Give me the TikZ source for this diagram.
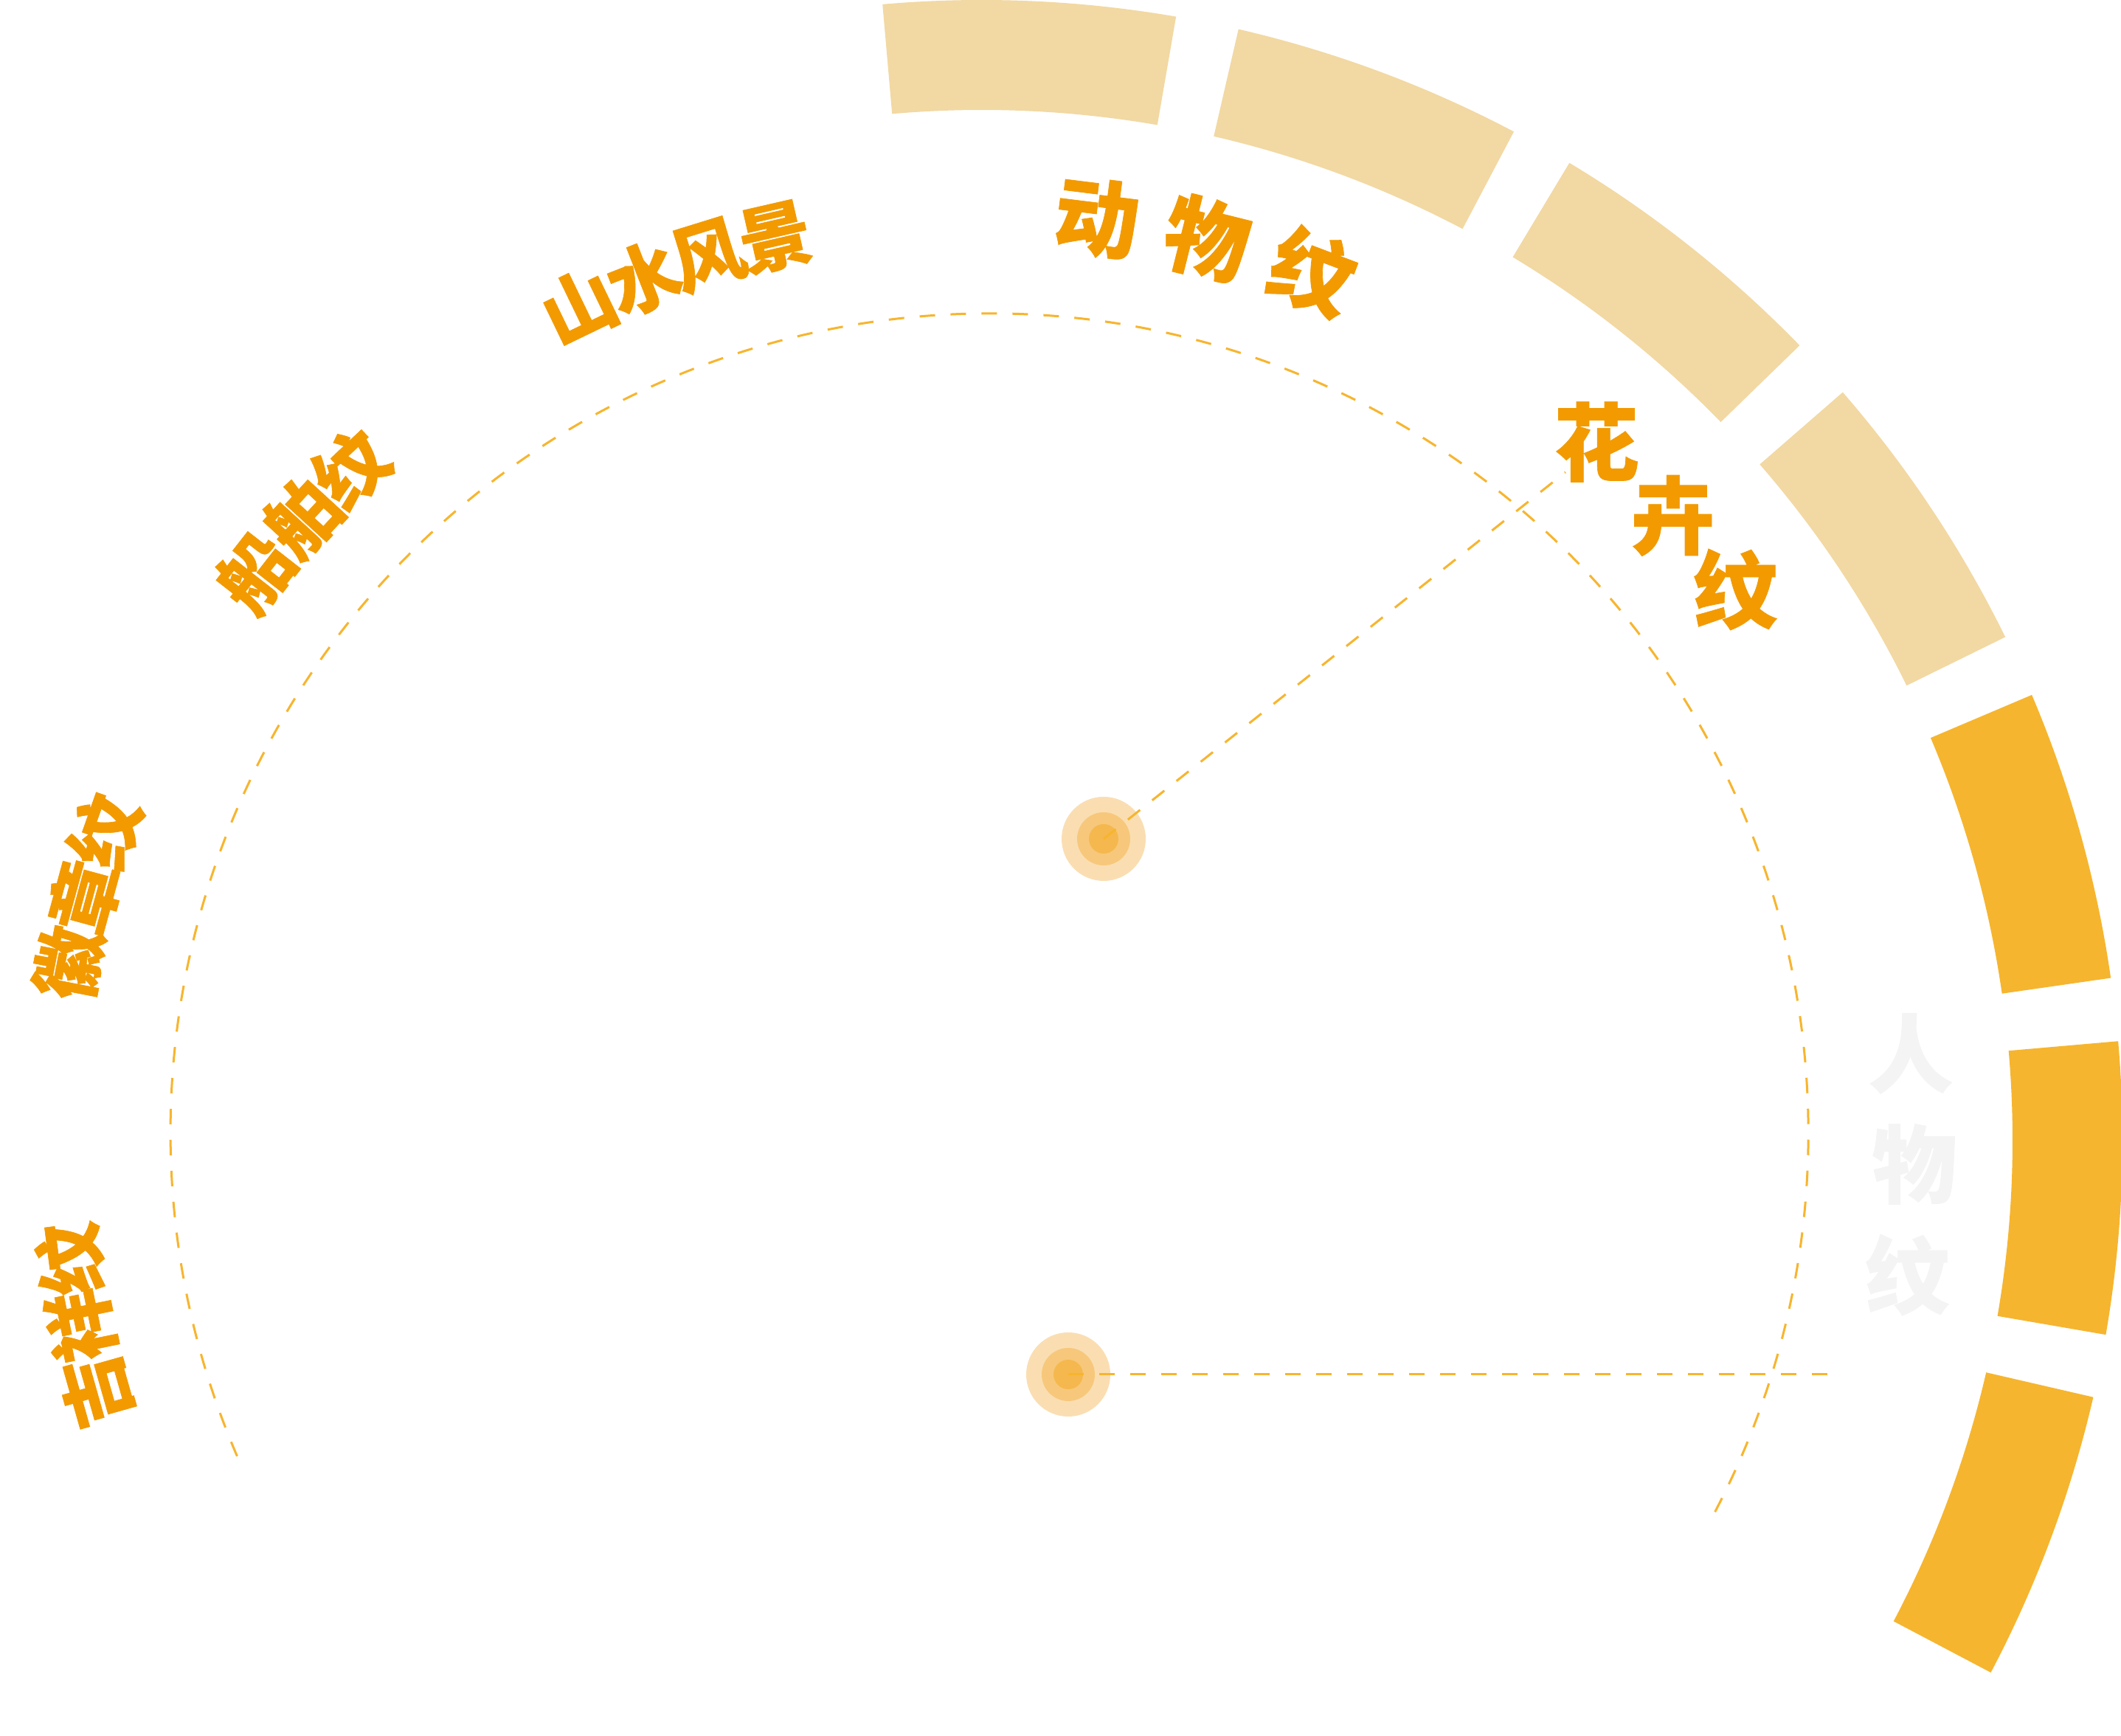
\documentclass[tikz,border=0pt]{standalone}
\usepackage{fontspec}
\newfontfamily\cjk{Noto Sans CJK SC}[BoldFeatures={FakeBold=0.6}]
\definecolor{segLight}{HTML}{F2D8A2}
\definecolor{segDark}{HTML}{F6B52E}
\definecolor{txtOrange}{HTML}{F29A00}
\definecolor{txtGray}{HTML}{F4F4F4}
\definecolor{dashCol}{HTML}{F7B52E}
\definecolor{dotA}{HTML}{FADEB2}
\definecolor{dotB}{HTML}{F7C87B}
\definecolor{dotC}{HTML}{F5B84E}
\tikzset{
  dashline/.style={draw=dashCol, line width=0.03cm, dash pattern=on 0.21cm off 0.21cm},
  lblsmall/.style={font=\cjk\bfseries\fontsize{28}{30}\selectfont, text=txtOrange, inner sep=0pt},
  lblbig/.style={font=\cjk\bfseries\fontsize{32.7}{34}\selectfont, text=txtOrange, inner sep=0pt},
  lblgray/.style={font=\cjk\bfseries\fontsize{32.7}{34}\selectfont, text=txtGray, inner sep=0pt},
  dotouter/.style={circle, fill=dotA, minimum size=1.14cm, inner sep=0pt},
}
\begin{document}
\begin{tikzpicture}
\fill[white] (0,0) rectangle (28.75,23.53);
\useasboundingbox (0,0) rectangle (28.75,23.53);
\coordinate (C) at (13.31,8.07);
\coordinate (D) at (13.41,8.18);
% ring segments
\foreach \k/\col in {0/segLight,1/segLight,2/segLight,3/segLight,4/segDark,5/segDark,6/segDark}{
  \pgfmathsetmacro\aA{80.2-18*\k}
  \pgfmathsetmacro\aB{95-18*\k}
  \fill[\col] ([shift={(\aA:13.97)}]C) arc[start angle=\aA, end angle=\aB, radius=13.97]
     -- ([shift={(\aB:15.46)}]C) arc[start angle=\aB, end angle=\aA, radius=15.46] -- cycle;
}
% dashed arc
\draw[dashline] ([shift={(-27.6:11.10)}]D) arc[start angle=-27.6, end angle=203.5, radius=11.10];
% dots
\node[dotouter] (dot1) at (14.96,12.16) {};
\fill[dotB] (dot1.center) circle (0.36);
\fill[dotC] (dot1.center) circle (0.20);
\node[dotouter] (dot2) at (14.48,4.90) {};
\fill[dotB] (dot2.center) circle (0.36);
\fill[dotC] (dot2.center) circle (0.20);
\coordinate (end1) at (21.22,17.13);
\coordinate (end2) at (24.97,4.90);
\draw[dashline] (dot1.center) -- (end1);
\draw[dashline] (dot2.center) -- (end2);
% curved labels
\foreach \ch/\ang/\r [count=\i] in {动/82.9/12.60, 物/76.0/12.60, 纹/69.2/12.60}
  \node[lblbig, rotate=\ang-90] (dw\i) at ([shift={(\ang:\r)}]C) {\ch};
\foreach \ch/\ang/\r [count=\i] in {山/115.8/12.56, 水/111.4/12.56, 风/107.2/12.56, 景/102.9/12.56}
  \node[lblsmall, rotate=\ang-90] (ss\i) at ([shift={(\ang:\r)}]C) {\ch};
\foreach \ch/\ang/\r [count=\i] in {船/142.0/12.50, 舶/137.5/12.50, 纹/133.2/12.50}
  \node[lblsmall, rotate=\ang-90] (cb\i) at ([shift={(\ang:\r)}]C) {\ch};
\foreach \ch/\ang/\r [count=\i] in {徽/169.0/12.61, 章/164.8/12.61, 纹/160.6/12.61}
  \node[lblsmall, rotate=\ang-90] (hz\i) at ([shift={(\ang:\r)}]C) {\ch};
\foreach \ch/\ang/\r [count=\i] in {吉/195.8/12.47, 祥/191.6/12.47, 纹/187.4/12.47}
  \node[lblsmall, rotate=\ang-90] (jx\i) at ([shift={(\ang:\r)}]C) {\ch};
% straight labels
\node[lblbig] (hh1) at (21.64,17.54) {花};
\node[lblbig] (hh2) at (22.68,16.54) {卉};
\node[lblbig] (hh3) at (23.52,15.54) {纹};
\node[lblgray] (rw1) at (25.90,9.25) {人};
\node[lblgray] (rw2) at (25.95,7.75) {物};
\node[lblgray] (rw3) at (25.85,6.25) {纹};
\end{tikzpicture}
\end{document}
